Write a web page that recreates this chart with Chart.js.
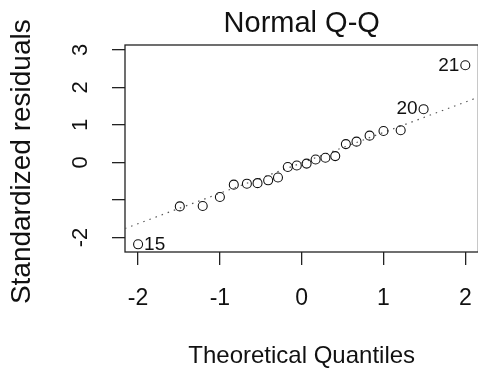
<!DOCTYPE html>
<html>
<head>
<meta charset="utf-8">
<title>Normal Q-Q</title>
<script src="https://cdn.jsdelivr.net/npm/chart.js@4.4.1/dist/chart.umd.min.js"></script>
<style>
  html, body { margin: 0; padding: 0; background: #fff; overflow: hidden; }
  #qq { display: block; }
</style>
</head>
<body>
<canvas id="qq" width="484" height="373"></canvas>
<script>
// cuantiles teóricos y residuos estandarizados, ya ordenados
const theoretical = [-2.00, -1.49, -1.21, -1.00, -0.83, -0.67, -0.54, -0.41, -0.29, -0.17, -0.06,
  0.06, 0.17, 0.29, 0.41, 0.54, 0.67, 0.83, 1.00, 1.21, 1.49, 2.00];
const residuals = [-2.18, -1.17, -1.16, -0.92, -0.59, -0.565, -0.55, -0.475, -0.40, -0.12, -0.08,
  -0.03, 0.08, 0.125, 0.17, 0.49, 0.555, 0.715, 0.84, 0.86, 1.42, 2.59];

// observaciones marcadas (posición en el orden y número de observación)
const idIndex = [0, 20, 21];
const idLabels = ['15', '20', '21'];

const xTicks = [-2, -1, 0, 1, 2];
const xTickLabels = ['-2', '-1', '0', '1', '2'];
const yTicks = [-2, -1, 0, 1, 2, 3];
const yTickLabels = ['-2', '', '0', '1', '2', '3'];
const xRange = [-2.16, 2.16];
const yRange = [-2.385, 3.13];

// recta de referencia (qqline)
const lineIntercept = -0.01;
const lineSlope = 0.81;

const fuente = "'Liberation Sans', Arial, sans-serif";
const tinta = '#111';

const marcoYTextos = {
  id: 'marcoYTextos',
  beforeDatasetsDraw(chart) {
    const { ctx, chartArea: a } = chart;
    ctx.save();
    ctx.strokeStyle = '#222';
    ctx.lineWidth = 1.3;
    ctx.strokeRect(a.left, a.top, a.right - a.left, a.bottom - a.top);
    ctx.restore();
  },
  afterDraw(chart) {
    const { ctx } = chart;
    const escalaY = chart.scales.y;
    ctx.save();
    ctx.fillStyle = tinta;
    ctx.textAlign = 'center';
    ctx.textBaseline = 'middle';

    // etiquetas del eje y, giradas
    ctx.font = `22px ${fuente}`;
    yTicks.forEach((v, i) => {
      if (!yTickLabels[i]) return;
      ctx.save();
      ctx.translate(81, escalaY.getPixelForValue(v));
      ctx.rotate(-Math.PI / 2);
      ctx.fillText(yTickLabels[i], 0, 0);
      ctx.restore();
    });

    // título del eje y
    ctx.font = `28px ${fuente}`;
    ctx.save();
    ctx.translate(22.5, 161.7);
    ctx.rotate(-Math.PI / 2);
    ctx.fillText('Standardized residuals', 0, 0);
    ctx.restore();

    // números de observación junto a los puntos extremos
    const meta = chart.getDatasetMeta(0);
    ctx.font = `19px ${fuente}`;
    idIndex.forEach((idx, i) => {
      const p = meta.data[idx];
      const izquierda = theoretical[idx] > 0;
      ctx.textAlign = izquierda ? 'right' : 'left';
      ctx.fillText(idLabels[i], p.x + (izquierda ? -6 : 6), p.y);
    });
    ctx.restore();
  }
};

const marcas = {
  drawOnChartArea: false,
  drawTicks: true,
  tickLength: 13,
  color: '#222',
  lineWidth: 1.3
};

new Chart(document.getElementById('qq'), {
  type: 'scatter',
  data: {
    datasets: [{
      data: theoretical.map((x, i) => ({ x, y: residuals[i] })),
      pointRadius: 4.5,
      pointBorderWidth: 1.1,
      borderColor: tinta,
      backgroundColor: 'rgba(0,0,0,0)'
    }, {
      type: 'line',
      data: xRange.map((x) => ({ x, y: lineIntercept + lineSlope * x })),
      borderColor: '#555',
      borderWidth: 1.2,
      borderDash: [1.5, 5],
      pointRadius: 0,
      fill: false
    }]
  },
  options: {
    responsive: false,
    animation: false,
    events: [],
    layout: {
      padding: { left: 0, right: 5, top: 0, bottom: 0 }
    },
    plugins: {
      legend: { display: false },
      tooltip: { enabled: false },
      title: {
        display: true,
        text: 'Normal Q-Q',
        fullSize: false,
        color: tinta,
        font: { size: 29, family: fuente, weight: 'normal', lineHeight: 1.2 },
        padding: { top: 6.8, bottom: 3.4 }
      }
    },
    scales: {
      x: {
        type: 'linear',
        min: xRange[0],
        max: xRange[1],
        afterBuildTicks: (s) => { s.ticks = xTicks.map((v) => ({ value: v })); },
        afterFit: (s) => {
          s.height = 121;
          s.paddingLeft = 0;
          s.paddingRight = 0;
        },
        grid: marcas,
        border: { display: false },
        ticks: {
          padding: 20,
          color: tinta,
          maxRotation: 0,
          autoSkip: false,
          font: { size: 23, family: fuente },
          callback: (v) => xTickLabels[xTicks.indexOf(v)]
        },
        title: {
          display: true,
          text: 'Theoretical Quantiles',
          color: tinta,
          font: { size: 24, family: fuente, lineHeight: 1.2 },
          padding: { top: 0, bottom: 2 }
        }
      },
      y: {
        type: 'linear',
        min: yRange[0],
        max: yRange[1],
        afterBuildTicks: (s) => { s.ticks = yTicks.map((v) => ({ value: v })); },
        afterFit: (s) => {
          s.width = 125;
          s.paddingTop = 0;
          s.paddingBottom = 0;
        },
        grid: marcas,
        border: { display: false },
        ticks: { display: false }
      }
    }
  },
  plugins: [marcoYTextos]
});
</script>
</body>
</html>
